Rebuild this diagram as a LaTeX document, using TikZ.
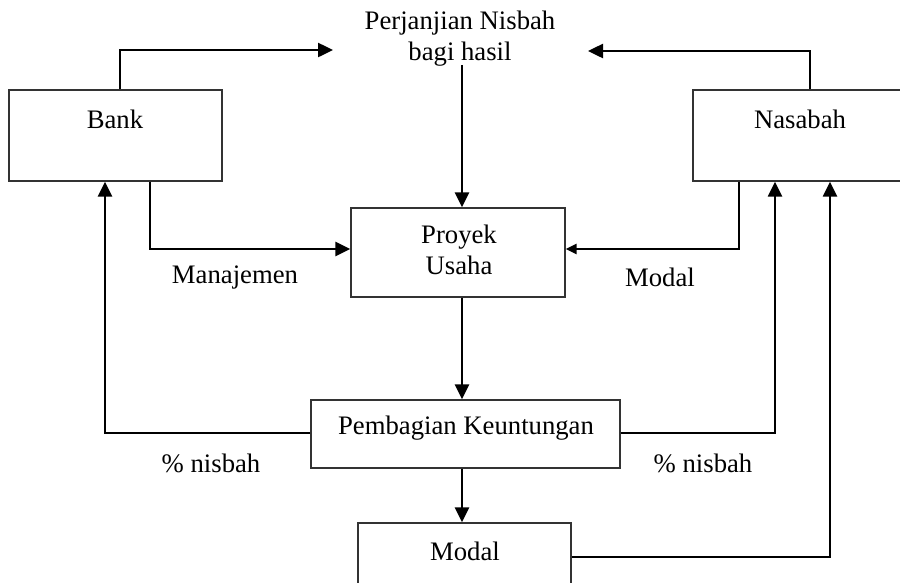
\documentclass[tikz,border=0pt]{standalone}
\usepackage{fontspec}
\setmainfont{Liberation Serif}
\usetikzlibrary{arrows.meta}
\begin{document}
\begin{tikzpicture}[x=1pt,y=-1pt,
  box/.style={draw=black!80, line width=1.4pt, inner sep=0pt, rectangle},
  txt/.style={inner sep=0pt, align=center, font=\fontsize{26.7}{31}\selectfont},
  conn/.style={line width=2.5pt, line join=miter},
  arr/.style={conn, -{Triangle[length=15pt,width=14pt]}},
  arrsmall/.style={conn, -{Triangle[length=11pt,width=10pt]}}]
\useasboundingbox (0,0) rectangle (900,582);
\begin{scope}
\clip (0,0) rectangle (900,582);
% boxes
\node[box, minimum width=213pt, minimum height=91pt] (bank) at (115.5,135.5) {};
\node[txt] (bankt) at (115,119) {Bank};
\node[box, minimum width=230pt, minimum height=91pt] (nasabah) at (808,135.5) {};
\node[txt] (nasabaht) at (800,119) {Nasabah};
\node[box, minimum width=214pt, minimum height=89pt] (proyek) at (458,252.5) {};
\node[txt] (proyekt) at (459,250) {Proyek\\Usaha};
\node[box, minimum width=309pt, minimum height=68pt] (bagi) at (465.5,434) {};
\node[txt] (bagit) at (466,428) {Pembagian Keuntungan};
\node[box, minimum width=213pt, minimum height=90pt] (modal) at (464.5,568) {};
\node[txt] (modalt) at (465,551) {Modal};
% agreement text
\node[txt] (janji) at (460,39) {Perjanjian Nisbah\\bagi hasil};
\coordinate (janjiL) at (333,50);
\coordinate (janjiR) at (588,51);
% connectors
\draw[arr] (bank.north -| 120,0) |- (janjiL);
\draw[arr] (nasabah.north -| 810,0) |- (janjiR);
\draw[arr] (janji.south -| 462,0) ++(0,-2) -- (proyek.north -| 462,0);
\draw[arr] (bank.south -| 150,0) |- (proyek.west |- 0,249);
\draw[arrsmall] (nasabah.south -| 739,0) |- (proyek.east |- 0,249);
\draw[arr] (proyek.south -| 462,0) -- (bagi.north -| 462,0);
\draw[arr] (bagi.west |- 0,433) -| (bank.south -| 105,0);
\draw[arr] (bagi.east |- 0,433) -| (nasabah.south -| 775,0);
\draw[arr] (bagi.south -| 462,0) -- (modal.north -| 462,0);
\draw[arr] (modal.east |- 0,557) -| (nasabah.south -| 830,0);
\end{scope}
% labels
\node[txt] (lmgmt) at (235,277) {Manajemen};
\node[txt] (lmodal) at (660,277) {Modal};
\node[txt] (lnl) at (211,463) {\% nisbah};
\node[txt] (lnr) at (703,463) {\% nisbah};
\end{tikzpicture}
\end{document}
